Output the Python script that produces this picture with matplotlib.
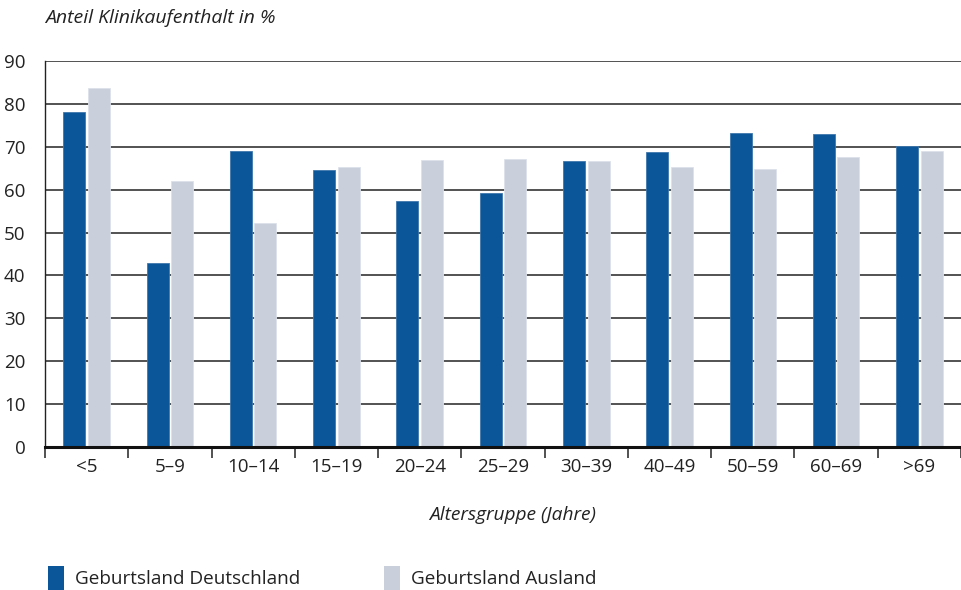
import matplotlib.pyplot as plt
import numpy as np
from matplotlib.patches import Patch

plt.rcParams['font.family'] = ['Open Sans', 'DejaVu Sans']

# Daten
altersgruppen = ["<5", "5–9", "10–14", "15–19", "20–24", "25–29",
                 "30–39", "40–49", "50–59", "60–69", ">69"]
deutschland = [78, 43, 69, 64.6, 57.4, 59.2, 66.6, 68.8, 73.3, 72.9, 70.1]
ausland = [83.6, 62, 52.3, 65.3, 66.9, 67.1, 66.8, 65.4, 64.9, 67.7, 69]
serien = ["Geburtsland Deutschland", "Geburtsland Ausland"]
farben = ["#0a5699", "#c9d0db"]
yticks = [0, 10, 20, 30, 40, 50, 60, 70, 80, 90]

fig = plt.figure(figsize=(9.61, 5.90), dpi=100)
ax = fig.add_axes([45 / 961, 1 - 447 / 590, 1 - 45 / 961, (447 - 61) / 590])

x = np.arange(len(altersgruppen))
w = 0.265
ax.bar(x - w / 2 - 0.015, deutschland, w, color=farben[0], edgecolor="#3f78ad", linewidth=0.6, zorder=3)
ax.bar(x + w / 2 + 0.015, ausland, w, color=farben[1], edgecolor="#dde2ea", linewidth=0.6, zorder=3)

ax.set_ylim(0, 90)
ax.set_xlim(-0.5, 10.48)
ax.set_yticks(yticks)
ax.set_yticklabels([str(t) for t in yticks], fontsize=13.5, color="#222222")
ax.yaxis.grid(True, color="#444444", linewidth=1.3, zorder=0)
ax.tick_params(axis="y", length=0, pad=14)

# x-Achse: Striche an den Gruppengrenzen, Beschriftung mittig
ax.set_xticks(np.arange(len(altersgruppen) + 1) - 0.5)
ax.set_xticklabels([])
ax.set_xticks(x, minor=True)
ax.set_xticklabels(altersgruppen, minor=True, fontsize=13.5, color="#222222")
ax.tick_params(axis="x", which="major", length=8, width=1.1, color="#222222", direction="out")
ax.tick_params(axis="x", which="minor", length=0, pad=8)

for s in ["top", "right"]:
    ax.spines[s].set_visible(False)
ax.spines["left"].set_color("#222222")
ax.spines["left"].set_linewidth(1.0)
ax.spines["bottom"].set_color("#111111")
ax.spines["bottom"].set_linewidth(2.2)
ax.spines["bottom"].set_zorder(4)

fig.text(45 / 961, 1 - 18 / 590, "Anteil Klinikaufenthalt in %", fontsize=14,
         style="italic", color="#222222", ha="left", va="center")
fig.text(513 / 961, 1 - 515 / 590, "Altersgruppe (Jahre)", fontsize=13.8,
         style="italic", color="#222222", ha="center", va="center")

handles = [Patch(facecolor=f, edgecolor="none") for f in farben]
fig.legend(handles, serien, loc="lower left", bbox_to_anchor=(48 / 961, 0.0), ncol=2,
           frameon=False, fontsize=13.6, handlelength=0.85, handleheight=1.6,
           handletextpad=0.6, columnspacing=4.4, borderpad=0, borderaxespad=0,
           labelcolor="#222222")

fig.savefig("out.png", dpi=100)
